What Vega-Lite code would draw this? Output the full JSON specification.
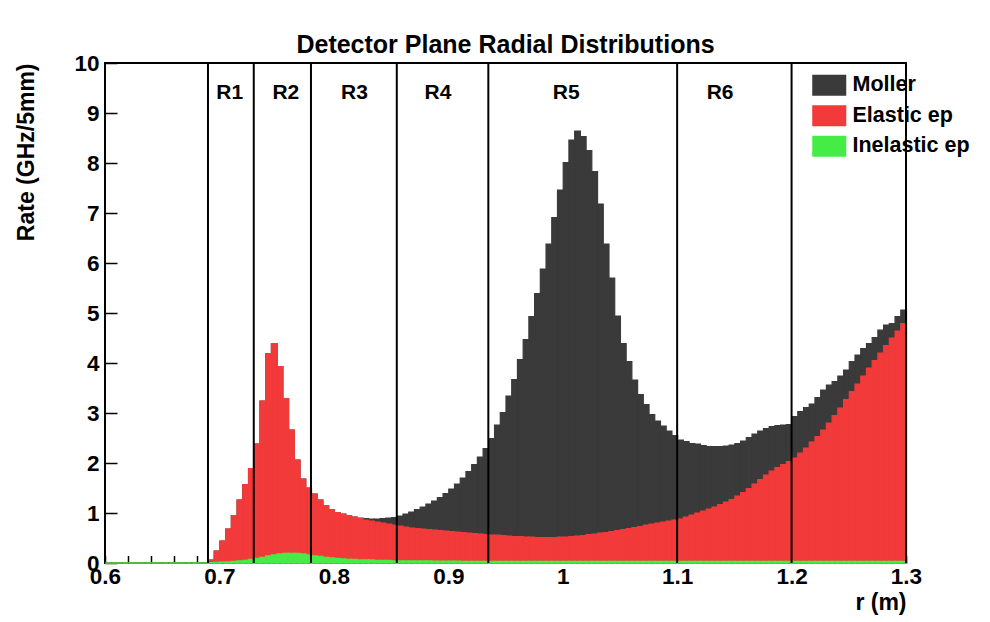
{
  "$schema": "https://vega.github.io/schema/vega-lite/v6.json",
  "width": 801,
  "height": 500,
  "autosize": {"type": "none"},
  "padding": {"left": 105, "top": 63, "right": 84, "bottom": 59},
  "background": "#ffffff",
  "title": {
    "text": "Detector Plane Radial Distributions",
    "font": "Liberation Sans",
    "fontSize": 25,
    "fontWeight": "bold",
    "color": "#000000",
    "anchor": "middle",
    "offset": -6
  },
  "config": {
    "view": {"stroke": "#000000", "strokeWidth": 2},
    "font": "Liberation Sans"
  },
  "datasets": {
    "bins": [
      {"r":0.600,"moller":0,"elastic":0,"inelastic":0},
      {"r":0.605,"moller":0,"elastic":0,"inelastic":0},
      {"r":0.610,"moller":0,"elastic":0,"inelastic":0},
      {"r":0.615,"moller":0,"elastic":0,"inelastic":0},
      {"r":0.620,"moller":0,"elastic":0,"inelastic":0},
      {"r":0.625,"moller":0,"elastic":0,"inelastic":0},
      {"r":0.630,"moller":0,"elastic":0,"inelastic":0},
      {"r":0.635,"moller":0,"elastic":0,"inelastic":0},
      {"r":0.640,"moller":0,"elastic":0,"inelastic":0},
      {"r":0.645,"moller":0,"elastic":0,"inelastic":0},
      {"r":0.650,"moller":0,"elastic":0,"inelastic":0},
      {"r":0.655,"moller":0,"elastic":0,"inelastic":0},
      {"r":0.660,"moller":0,"elastic":0,"inelastic":0},
      {"r":0.665,"moller":0,"elastic":0,"inelastic":0},
      {"r":0.670,"moller":0,"elastic":0,"inelastic":0},
      {"r":0.675,"moller":0,"elastic":0,"inelastic":0},
      {"r":0.680,"moller":0,"elastic":0,"inelastic":0},
      {"r":0.685,"moller":0,"elastic":0,"inelastic":0},
      {"r":0.690,"moller":0.06,"elastic":0.06,"inelastic":0.005},
      {"r":0.695,"moller":0.24,"elastic":0.24,"inelastic":0.01},
      {"r":0.700,"moller":0.44,"elastic":0.44,"inelastic":0.015},
      {"r":0.705,"moller":0.68,"elastic":0.68,"inelastic":0.02},
      {"r":0.710,"moller":0.95,"elastic":0.95,"inelastic":0.03},
      {"r":0.715,"moller":1.26,"elastic":1.26,"inelastic":0.04},
      {"r":0.720,"moller":1.57,"elastic":1.57,"inelastic":0.05},
      {"r":0.725,"moller":1.89,"elastic":1.89,"inelastic":0.07},
      {"r":0.730,"moller":2.38,"elastic":2.38,"inelastic":0.09},
      {"r":0.735,"moller":3.24,"elastic":3.24,"inelastic":0.11},
      {"r":0.740,"moller":4.19,"elastic":4.19,"inelastic":0.14},
      {"r":0.745,"moller":4.39,"elastic":4.39,"inelastic":0.16},
      {"r":0.750,"moller":3.93,"elastic":3.93,"inelastic":0.18},
      {"r":0.755,"moller":3.29,"elastic":3.29,"inelastic":0.19},
      {"r":0.760,"moller":2.66,"elastic":2.66,"inelastic":0.19},
      {"r":0.765,"moller":2.06,"elastic":2.06,"inelastic":0.19},
      {"r":0.770,"moller":1.68,"elastic":1.68,"inelastic":0.18},
      {"r":0.775,"moller":1.50,"elastic":1.50,"inelastic":0.16},
      {"r":0.780,"moller":1.38,"elastic":1.38,"inelastic":0.14},
      {"r":0.785,"moller":1.26,"elastic":1.26,"inelastic":0.13},
      {"r":0.790,"moller":1.15,"elastic":1.15,"inelastic":0.11},
      {"r":0.795,"moller":1.07,"elastic":1.07,"inelastic":0.10},
      {"r":0.800,"moller":1.01,"elastic":1.01,"inelastic":0.09},
      {"r":0.805,"moller":0.98,"elastic":0.98,"inelastic":0.08},
      {"r":0.810,"moller":0.95,"elastic":0.95,"inelastic":0.07},
      {"r":0.815,"moller":0.92,"elastic":0.92,"inelastic":0.07},
      {"r":0.820,"moller":0.90,"elastic":0.89,"inelastic":0.06},
      {"r":0.825,"moller":0.89,"elastic":0.86,"inelastic":0.06},
      {"r":0.830,"moller":0.88,"elastic":0.84,"inelastic":0.06},
      {"r":0.835,"moller":0.88,"elastic":0.82,"inelastic":0.05},
      {"r":0.840,"moller":0.89,"elastic":0.80,"inelastic":0.05},
      {"r":0.845,"moller":0.90,"elastic":0.78,"inelastic":0.05},
      {"r":0.850,"moller":0.91,"elastic":0.76,"inelastic":0.04},
      {"r":0.855,"moller":0.94,"elastic":0.74,"inelastic":0.04},
      {"r":0.860,"moller":0.98,"elastic":0.72,"inelastic":0.04},
      {"r":0.865,"moller":1.02,"elastic":0.70,"inelastic":0.04},
      {"r":0.870,"moller":1.07,"elastic":0.69,"inelastic":0.04},
      {"r":0.875,"moller":1.12,"elastic":0.68,"inelastic":0.04},
      {"r":0.880,"moller":1.18,"elastic":0.67,"inelastic":0.04},
      {"r":0.885,"moller":1.24,"elastic":0.66,"inelastic":0.035},
      {"r":0.890,"moller":1.31,"elastic":0.65,"inelastic":0.035},
      {"r":0.895,"moller":1.39,"elastic":0.64,"inelastic":0.035},
      {"r":0.900,"moller":1.48,"elastic":0.63,"inelastic":0.035},
      {"r":0.905,"moller":1.58,"elastic":0.62,"inelastic":0.035},
      {"r":0.910,"moller":1.70,"elastic":0.61,"inelastic":0.03},
      {"r":0.915,"moller":1.83,"elastic":0.60,"inelastic":0.03},
      {"r":0.920,"moller":1.97,"elastic":0.59,"inelastic":0.03},
      {"r":0.925,"moller":2.12,"elastic":0.58,"inelastic":0.03},
      {"r":0.930,"moller":2.29,"elastic":0.57,"inelastic":0.03},
      {"r":0.935,"moller":2.49,"elastic":0.56,"inelastic":0.03},
      {"r":0.940,"moller":2.76,"elastic":0.56,"inelastic":0.03},
      {"r":0.945,"moller":3.01,"elastic":0.55,"inelastic":0.03},
      {"r":0.950,"moller":3.34,"elastic":0.54,"inelastic":0.03},
      {"r":0.955,"moller":3.67,"elastic":0.53,"inelastic":0.03},
      {"r":0.960,"moller":4.07,"elastic":0.53,"inelastic":0.03},
      {"r":0.965,"moller":4.47,"elastic":0.52,"inelastic":0.03},
      {"r":0.970,"moller":4.93,"elastic":0.52,"inelastic":0.03},
      {"r":0.975,"moller":5.39,"elastic":0.51,"inelastic":0.03},
      {"r":0.980,"moller":5.88,"elastic":0.51,"inelastic":0.03},
      {"r":0.985,"moller":6.38,"elastic":0.51,"inelastic":0.03},
      {"r":0.990,"moller":6.91,"elastic":0.51,"inelastic":0.03},
      {"r":0.995,"moller":7.46,"elastic":0.52,"inelastic":0.03},
      {"r":1.000,"moller":8.01,"elastic":0.52,"inelastic":0.03},
      {"r":1.005,"moller":8.46,"elastic":0.53,"inelastic":0.03},
      {"r":1.010,"moller":8.64,"elastic":0.54,"inelastic":0.03},
      {"r":1.015,"moller":8.53,"elastic":0.55,"inelastic":0.03},
      {"r":1.020,"moller":8.25,"elastic":0.57,"inelastic":0.03},
      {"r":1.025,"moller":7.83,"elastic":0.58,"inelastic":0.03},
      {"r":1.030,"moller":7.18,"elastic":0.60,"inelastic":0.03},
      {"r":1.035,"moller":6.38,"elastic":0.61,"inelastic":0.03},
      {"r":1.040,"moller":5.70,"elastic":0.63,"inelastic":0.03},
      {"r":1.045,"moller":4.94,"elastic":0.65,"inelastic":0.03},
      {"r":1.050,"moller":4.39,"elastic":0.67,"inelastic":0.03},
      {"r":1.055,"moller":4.03,"elastic":0.69,"inelastic":0.03},
      {"r":1.060,"moller":3.66,"elastic":0.71,"inelastic":0.03},
      {"r":1.065,"moller":3.37,"elastic":0.73,"inelastic":0.03},
      {"r":1.070,"moller":3.17,"elastic":0.76,"inelastic":0.03},
      {"r":1.075,"moller":2.97,"elastic":0.78,"inelastic":0.03},
      {"r":1.080,"moller":2.84,"elastic":0.80,"inelastic":0.03},
      {"r":1.085,"moller":2.74,"elastic":0.82,"inelastic":0.03},
      {"r":1.090,"moller":2.64,"elastic":0.84,"inelastic":0.03},
      {"r":1.095,"moller":2.55,"elastic":0.86,"inelastic":0.03},
      {"r":1.100,"moller":2.46,"elastic":0.88,"inelastic":0.03},
      {"r":1.105,"moller":2.43,"elastic":0.92,"inelastic":0.03},
      {"r":1.110,"moller":2.39,"elastic":0.96,"inelastic":0.03},
      {"r":1.115,"moller":2.38,"elastic":1.00,"inelastic":0.03},
      {"r":1.120,"moller":2.35,"elastic":1.04,"inelastic":0.03},
      {"r":1.125,"moller":2.33,"elastic":1.08,"inelastic":0.03},
      {"r":1.130,"moller":2.33,"elastic":1.12,"inelastic":0.03},
      {"r":1.135,"moller":2.33,"elastic":1.17,"inelastic":0.03},
      {"r":1.140,"moller":2.34,"elastic":1.22,"inelastic":0.03},
      {"r":1.145,"moller":2.36,"elastic":1.27,"inelastic":0.03},
      {"r":1.150,"moller":2.39,"elastic":1.34,"inelastic":0.03},
      {"r":1.155,"moller":2.44,"elastic":1.41,"inelastic":0.03},
      {"r":1.160,"moller":2.51,"elastic":1.49,"inelastic":0.03},
      {"r":1.165,"moller":2.58,"elastic":1.58,"inelastic":0.03},
      {"r":1.170,"moller":2.64,"elastic":1.67,"inelastic":0.03},
      {"r":1.175,"moller":2.69,"elastic":1.76,"inelastic":0.03},
      {"r":1.180,"moller":2.73,"elastic":1.84,"inelastic":0.03},
      {"r":1.185,"moller":2.75,"elastic":1.91,"inelastic":0.03},
      {"r":1.190,"moller":2.76,"elastic":1.97,"inelastic":0.03},
      {"r":1.195,"moller":2.77,"elastic":2.03,"inelastic":0.03},
      {"r":1.200,"moller":2.93,"elastic":2.10,"inelastic":0.03},
      {"r":1.205,"moller":3.03,"elastic":2.20,"inelastic":0.03},
      {"r":1.210,"moller":3.11,"elastic":2.30,"inelastic":0.03},
      {"r":1.215,"moller":3.18,"elastic":2.42,"inelastic":0.03},
      {"r":1.220,"moller":3.31,"elastic":2.53,"inelastic":0.03},
      {"r":1.225,"moller":3.46,"elastic":2.66,"inelastic":0.03},
      {"r":1.230,"moller":3.56,"elastic":2.80,"inelastic":0.03},
      {"r":1.235,"moller":3.63,"elastic":2.95,"inelastic":0.03},
      {"r":1.240,"moller":3.74,"elastic":3.10,"inelastic":0.03},
      {"r":1.245,"moller":3.86,"elastic":3.27,"inelastic":0.03},
      {"r":1.250,"moller":4.03,"elastic":3.43,"inelastic":0.03},
      {"r":1.255,"moller":4.16,"elastic":3.58,"inelastic":0.03},
      {"r":1.260,"moller":4.29,"elastic":3.74,"inelastic":0.03},
      {"r":1.265,"moller":4.39,"elastic":3.90,"inelastic":0.03},
      {"r":1.270,"moller":4.51,"elastic":4.05,"inelastic":0.03},
      {"r":1.275,"moller":4.66,"elastic":4.20,"inelastic":0.03},
      {"r":1.280,"moller":4.76,"elastic":4.35,"inelastic":0.03},
      {"r":1.285,"moller":4.79,"elastic":4.50,"inelastic":0.03},
      {"r":1.290,"moller":4.93,"elastic":4.64,"inelastic":0.03},
      {"r":1.295,"moller":5.06,"elastic":4.79,"inelastic":0.03}
    ],
    "bounds": [
      {"r": 0.69}, {"r": 0.73}, {"r": 0.78}, {"r": 0.855},
      {"r": 0.935}, {"r": 1.1}, {"r": 1.2}, {"r": 1.3}
    ],
    "labels": [
      {"region": "R1", "r": 0.709},
      {"region": "R2", "r": 0.758},
      {"region": "R3", "r": 0.818},
      {"region": "R4", "r": 0.891},
      {"region": "R5", "r": 1.003},
      {"region": "R6", "r": 1.1375}
    ]
  },
  "layer": [
    {
      "data": {"name": "bins"},
      "mark": {"type": "bar", "binSpacing": 0, "stroke": "#3a3a3a", "strokeWidth": 1.2},
      "encoding": {
        "x": {
          "field": "r", "type": "quantitative",
          "bin": {"binned": true, "step": 0.005},
          "scale": {"domain": [0.6, 1.3], "nice": false, "zero": false},
          "axis": {
            "title": "r (m)",
            "titleFont": "Liberation Sans", "titleFontSize": 23, "titleFontWeight": "bold", "titleColor": "#000000",
            "titleX": 801, "titleY": 46, "titleAlign": "right", "titleBaseline": "alphabetic", "titleAngle": 0,
            "values": [0.6,0.62,0.64,0.66,0.68,0.7,0.72,0.74,0.76,0.78,0.8,0.82,0.84,0.86,0.88,0.9,0.92,0.94,0.96,0.98,1.0,1.02,1.04,1.06,1.08,1.1,1.12,1.14,1.16,1.18,1.2,1.22,1.24,1.26,1.28,1.3],
            "format": ".1~f",
            "labelExpr": "abs(datum.value*10 - round(datum.value*10)) < 1e-6 ? datum.label : ''",
            "labelFont": "Liberation Sans", "labelFontSize": 22.5, "labelFontWeight": "bold", "labelColor": "#000000",
            "labelFlush": false, "labelOverlap": false, "labelBound": false,
            "labelPadding": 10, "labelBaseline": "top",
            "domain": false, "grid": false,
            "tickSize": -7.5, "tickColor": "#000000", "tickWidth": 1.5,
            "encode": {
              "ticks": {
                "update": {
                  "y2": [
                    {"test": "abs(datum.value*10 - round(datum.value*10)) < 1e-6", "value": -15},
                    {"value": -7.5}
                  ]
                }
              }
            }
          }
        },
        "y": {
          "field": "moller", "type": "quantitative",
          "scale": {"domain": [0, 10], "nice": false},
          "axis": {
            "title": "Rate (GHz/5mm)",
            "titleFont": "Liberation Sans", "titleFontSize": 23, "titleFontWeight": "bold", "titleColor": "#000000",
            "titleAngle": -90, "titleX": -71.5, "titleY": 0, "titleAlign": "right", "titleBaseline": "alphabetic",
            "tickCount": 50,
            "format": "d",
            "labelExpr": "abs(datum.value - round(datum.value)) < 1e-6 ? datum.label : ''",
            "labelFont": "Liberation Sans", "labelFontSize": 22.5, "labelFontWeight": "bold", "labelColor": "#000000",
            "labelFlush": false, "labelOverlap": false, "labelBound": false,
            "labelPadding": 18,
            "domain": false, "grid": false,
            "tickSize": -12, "tickColor": "#000000", "tickWidth": 1.5,
            "encode": {
              "ticks": {
                "update": {
                  "x2": [
                    {"test": "abs(datum.value - round(datum.value)) < 1e-6", "value": 24},
                    {"value": 12}
                  ]
                }
              }
            }
          }
        },
        "color": {
          "datum": "Moller",
          "scale": {"domain": ["Moller", "Elastic ep", "Inelastic ep"], "range": ["#3a3a3a", "#f23a3a", "#45ec45"]},
          "legend": {
            "title": null,
            "orient": "none", "legendX": 713.5, "legendY": 11.5,
            "symbolType": "M-1.62,-1H1.62V1H-1.62Z",
            "symbolSize": 441,
            "symbolStrokeWidth": 0,
            "symbolOpacity": 1,
            "labelFont": "Liberation Sans", "labelFontSize": 21.5, "labelFontWeight": "bold", "labelColor": "#000000",
            "labelOffset": 12.5,
            "rowPadding": 7.5,
            "padding": 0
          }
        }
      }
    },
    {
      "data": {"name": "bins"},
      "mark": {"type": "bar", "binSpacing": 0, "stroke": "#f23a3a", "strokeWidth": 1.2},
      "encoding": {
        "x": {"field": "r", "type": "quantitative", "bin": {"binned": true, "step": 0.005}},
        "y": {"field": "elastic", "type": "quantitative"},
        "color": {"datum": "Elastic ep"}
      }
    },
    {
      "data": {"name": "bins"},
      "mark": {"type": "bar", "binSpacing": 0, "stroke": "#45ec45", "strokeWidth": 1.5},
      "encoding": {
        "x": {"field": "r", "type": "quantitative", "bin": {"binned": true, "step": 0.005}},
        "y": {"field": "inelastic", "type": "quantitative"},
        "color": {"datum": "Inelastic ep"}
      }
    },
    {
      "data": {"name": "bounds"},
      "mark": {"type": "rule", "color": "#000000", "strokeWidth": 2},
      "encoding": {
        "x": {"field": "r", "type": "quantitative"}
      }
    },
    {
      "data": {"name": "labels"},
      "mark": {"type": "text", "font": "Liberation Sans", "fontSize": 21, "fontWeight": "bold", "color": "#000000", "align": "center", "baseline": "alphabetic"},
      "encoding": {
        "x": {"field": "r", "type": "quantitative"},
        "y": {"datum": 9.28},
        "text": {"field": "region"}
      }
    }
  ]
}
